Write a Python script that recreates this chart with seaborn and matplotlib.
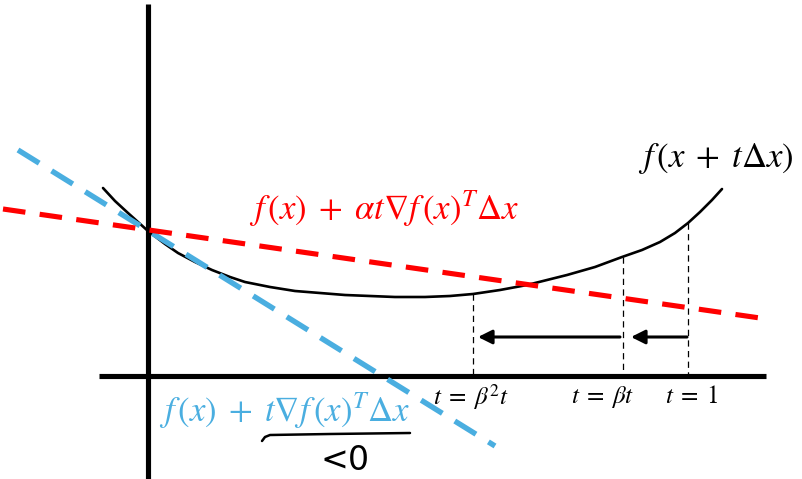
import matplotlib.pyplot as plt
import seaborn as sns
import pandas as pd
import numpy as np

# pixel-space picture (y grows downward)
curve_x = [103, 115, 128, 148, 165, 178, 195, 212, 230, 245, 270, 295, 320, 345, 370, 395, 425,
           450, 473, 500, 527, 547, 567, 595, 622, 642, 660, 675, 688, 700, 712, 722]
curve_y = [188, 201, 213, 231, 244, 253, 262, 270, 277, 282, 287, 291, 293, 295, 296, 297, 297,
           296, 294, 290, 285, 280, 275, 267, 257, 250, 242, 233, 223, 212, 200, 189]

red_x = [3, 760]
red_y = [209, 318]
blue_x = [18, 495]
blue_y = [150, 446]

step_x = [473, 623, 688]
step_top = [294, 257, 223]
step_labels = [r'$t\;=\;\beta^2 t$', r'$t\;=\;\beta t$', r'$t\;=\;1$']
step_label_x = [471, 603, 692]

brace_x = [262, 265, 270, 330, 410]
brace_y = [441, 437, 435, 434, 433]

sns.set_theme(style="white")
plt.rcParams['mathtext.fontset'] = 'stix'
plt.rcParams['font.family'] = ['STIXGeneral', 'DejaVu Sans']

fig = plt.figure(figsize=(8.03, 4.79), dpi=100)
ax = fig.add_axes([0, 0, 1, 1])
ax.set_xlim(0, 803)
ax.set_ylim(479, 0)
ax.axis('off')

blue = "#4aaee0"
red = "#ff0000"

# axes of the sketch
ax.plot([148, 148], [4, 479], color='black', lw=3.7, solid_capstyle='butt')
ax.plot([99, 766], [376, 376], color='black', lw=3.7, solid_capstyle='butt')

# function curve
df_curve = pd.DataFrame({'x': curve_x, 'y': curve_y})
sns.lineplot(data=df_curve, x='x', y='y', sort=False, color='black', lw=1.9, ax=ax)

# tangent lines
sns.lineplot(x=blue_x, y=blue_y, color=blue, lw=3.9, ax=ax)
ax.lines[-1].set_dashes((4.6, 2.7))
sns.lineplot(x=red_x, y=red_y, color=red, lw=3.7, ax=ax)
ax.lines[-1].set_dashes((4.4, 2.8))

# trial steps
for sx, top in zip(step_x, step_top):
    ax.plot([sx, sx], [top, 374], color='black', lw=0.9, dashes=(5, 3.5))
for sx, lab in zip(step_label_x, step_labels):
    ax.text(sx, 397, lab, ha='center', va='center', fontsize=18, color='black')

# backtracking arrows
arrow_kw = dict(arrowstyle='-|>,head_length=0.6,head_width=0.3', color='black',
                lw=2.2, mutation_scale=14, shrinkA=0, shrinkB=0)
ax.annotate('', xy=(478, 337), xytext=(620, 337), arrowprops=arrow_kw)
ax.annotate('', xy=(631, 337), xytext=(687, 337), arrowprops=arrow_kw)

# labels
ax.text(716, 158, r'$f\,(x\;+\;t\Delta x)$', ha='center', va='center', fontsize=25, color='black')
ax.text(384, 209, r'$f\,(x)\;+\;\alpha t\nabla f\,(x)^T\Delta x$', ha='center', va='center',
        fontsize=25, color=red)
ax.text(285, 411, r'$f\,(x)\;+\;t\nabla f\,(x)^T\Delta x$', ha='center', va='center',
        fontsize=25, color=blue)
ax.plot(brace_x, brace_y, color='black', lw=1.8)
ax.text(345, 461, '<0', ha='center', va='center', fontsize=24, color='black',
        family=['DejaVu Sans'])

fig.savefig('out.png', dpi=100)
